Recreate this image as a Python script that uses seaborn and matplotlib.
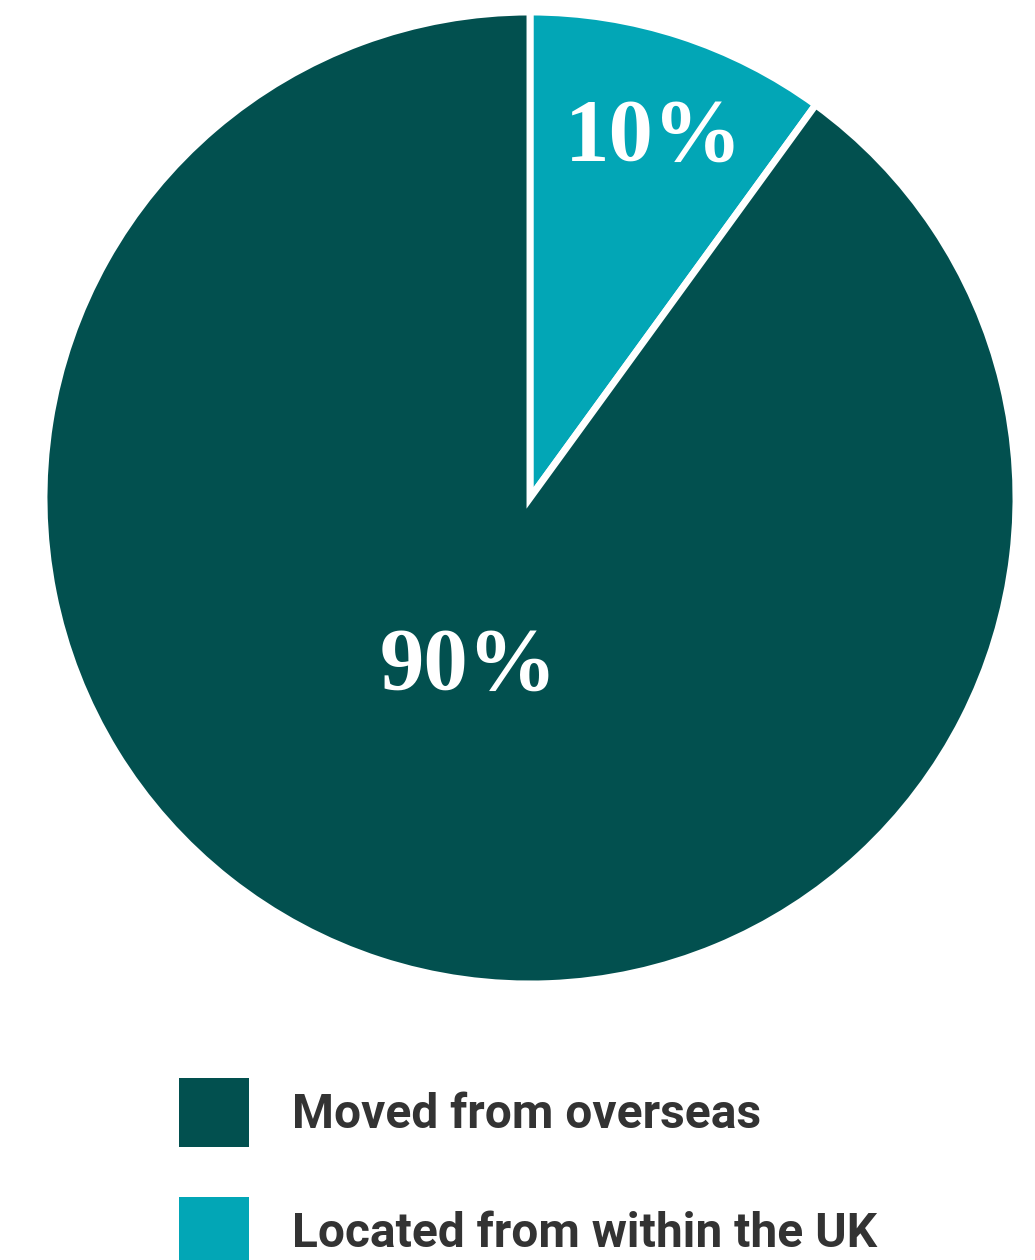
import matplotlib
matplotlib.use("Agg")
import matplotlib.pyplot as plt
import seaborn as sns

categories = ["Located from within the UK", "Moved from overseas"]
values = [10, 90]
pct_labels = ["10%", "90%"]
colors = ["#02A6B6", "#02504F"]
legend_order = [1, 0]

sns.set_theme(style="white")
plt.rcParams['font.family'] = ['Roboto', 'DejaVu Sans']

fig = plt.figure(figsize=(10.35, 12.6), dpi=100)
ax = fig.add_axes([44/1035, (1260-984)/1260, 972/1035, 972/1260])
wedges, _ = ax.pie(values, colors=colors, startangle=90, counterclock=False,
                   radius=1.0, wedgeprops=dict(edgecolor="white", linewidth=5))
ax.set_xlim(-1, 1)
ax.set_ylim(-1, 1)
ax.set_aspect("equal")
ax.axis("off")

label_pos = [(0.254, 0.741), (-0.127, -0.348)]
for (x, y), t in zip(label_pos, pct_labels):
    ax.text(x, y, t, ha="center", va="center", color="white",
            fontsize=64, fontweight="bold", family=["Liberation Serif", "DejaVu Serif"])

handles = [wedges[i] for i in legend_order]
labels = [categories[i] for i in legend_order]
leg = fig.legend(handles, labels, loc="upper left",
                 bbox_to_anchor=(179/1035, 1 - 1078/1260), frameon=False,
                 fontsize=34.5, handlelength=1.46, handleheight=1.85,
                 handletextpad=0.9, labelspacing=1.04, borderpad=0, borderaxespad=0)
for t in leg.get_texts():
    t.set_color("#333333")
    t.set_fontweight("bold")
for h in leg.legend_handles:
    h.set_edgecolor("none")
    h.set_linewidth(0)

fig.savefig("out.png", dpi=100)
